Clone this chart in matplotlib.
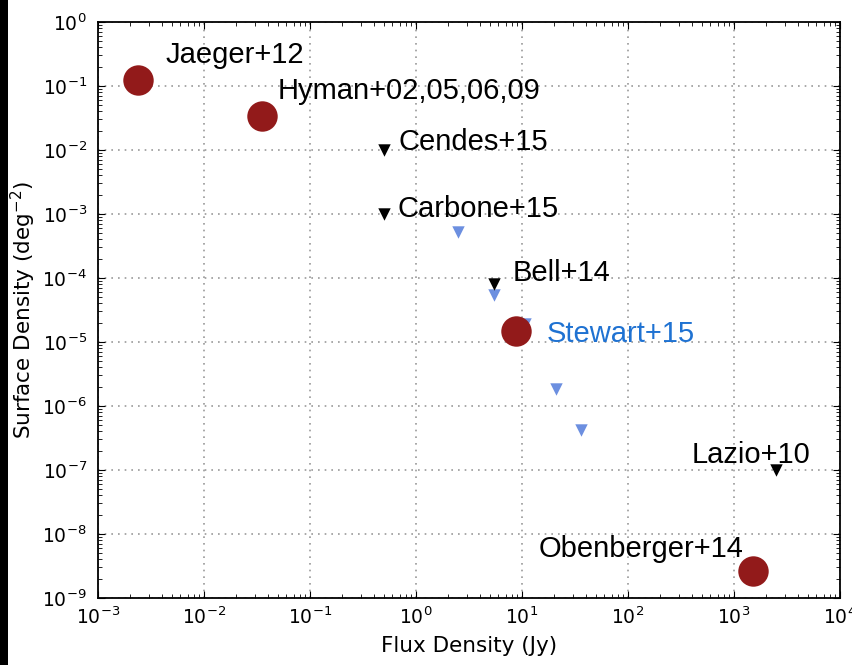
import matplotlib
matplotlib.use("Agg")
import matplotlib.pyplot as plt
from matplotlib.patches import Rectangle

# Detections (filled circles)
det_names = ["Jaeger+12", "Hyman+02,05,06,09", "Stewart+15", "Obenberger+14"]
det_flux = [0.0024, 0.035, 8.8, 1500.0]
det_density = [0.125, 0.034, 1.5e-5, 2.6e-9]

# Upper limits from other surveys (black triangles)
lim_names = ["Cendes+15", "Carbone+15", "Bell+14", "Lazio+10"]
lim_flux = [0.5, 0.5, 5.5, 2500.0]
lim_density = [1.0e-2, 1.0e-3, 8.0e-5, 1.0e-7]

# Stewart+15 upper limits (blue triangles)
stw_flux = [2.5, 5.5, 10.6, 21.0, 36.0]
stw_density = [5.2e-4, 5.4e-5, 1.9e-5, 1.85e-6, 4.2e-7]

red = "#921a1a"
blue = "#6c8fe0"
label_blue = "#1f72d2"

fig = plt.figure(figsize=(8.52, 6.65), dpi=100)
ax = fig.add_axes([98 / 852, 1 - 598 / 665, (840 - 98) / 852, (598 - 22) / 665])

ax.set_xscale("log")
ax.set_yscale("log")
ax.set_xlim(1e-3, 1e4)
ax.set_ylim(1e-9, 1e0)

ax.grid(True, which="major", linestyle=(0, (1, 3)), color="#999999", linewidth=1.2)
ax.set_axisbelow(True)

ax.scatter(stw_flux, stw_density, marker="v", s=80, color=blue, linewidths=0, zorder=3)
ax.scatter(lim_flux, lim_density, marker="v", s=80, color="black", linewidths=0, zorder=4)
ax.scatter(det_flux, det_density, marker="o", s=480, color=red, linewidths=0, zorder=5)

tfont = dict(family=["Liberation Sans", "DejaVu Sans"], fontsize=21)
label_pos = {
    "Jaeger+12": (0.0043, 0.30),
    "Hyman+02,05,06,09": (0.049, 0.085),
    "Cendes+15": (0.69, 0.0135),
    "Carbone+15": (0.67, 0.0012),
    "Bell+14": (8.2, 0.00012),
    "Stewart+15": (17.0, 1.35e-5),
    "Lazio+10": (400.0, 1.7e-7),
    "Obenberger+14": (14.5, 5.8e-9),
}
for name, (x, y) in label_pos.items():
    color = label_blue if name == "Stewart+15" else "black"
    ax.text(x, y, name, color=color, va="center", ha="left", zorder=6, **tfont)

ax.tick_params(which="both", direction="in", top=True, right=True)
ax.tick_params(which="major", length=5, labelsize=13.5)
ax.tick_params(axis="x", which="major", pad=6)
ax.tick_params(axis="y", which="major", pad=8)
ax.tick_params(which="minor", length=3)
for s in ax.spines.values():
    s.set_linewidth(1.3)

ax.set_xlabel("Flux Density (Jy)", fontsize=15.5, labelpad=6)
ax.set_ylabel("Surface Density (deg$^{-2}$)", fontsize=15.5, labelpad=3)

# dark strip along the left edge
fig.patches.append(Rectangle((0, 0), 8 / 852, 1, transform=fig.transFigure,
                             facecolor="black", edgecolor="none"))

fig.savefig("out.png", dpi=100)
